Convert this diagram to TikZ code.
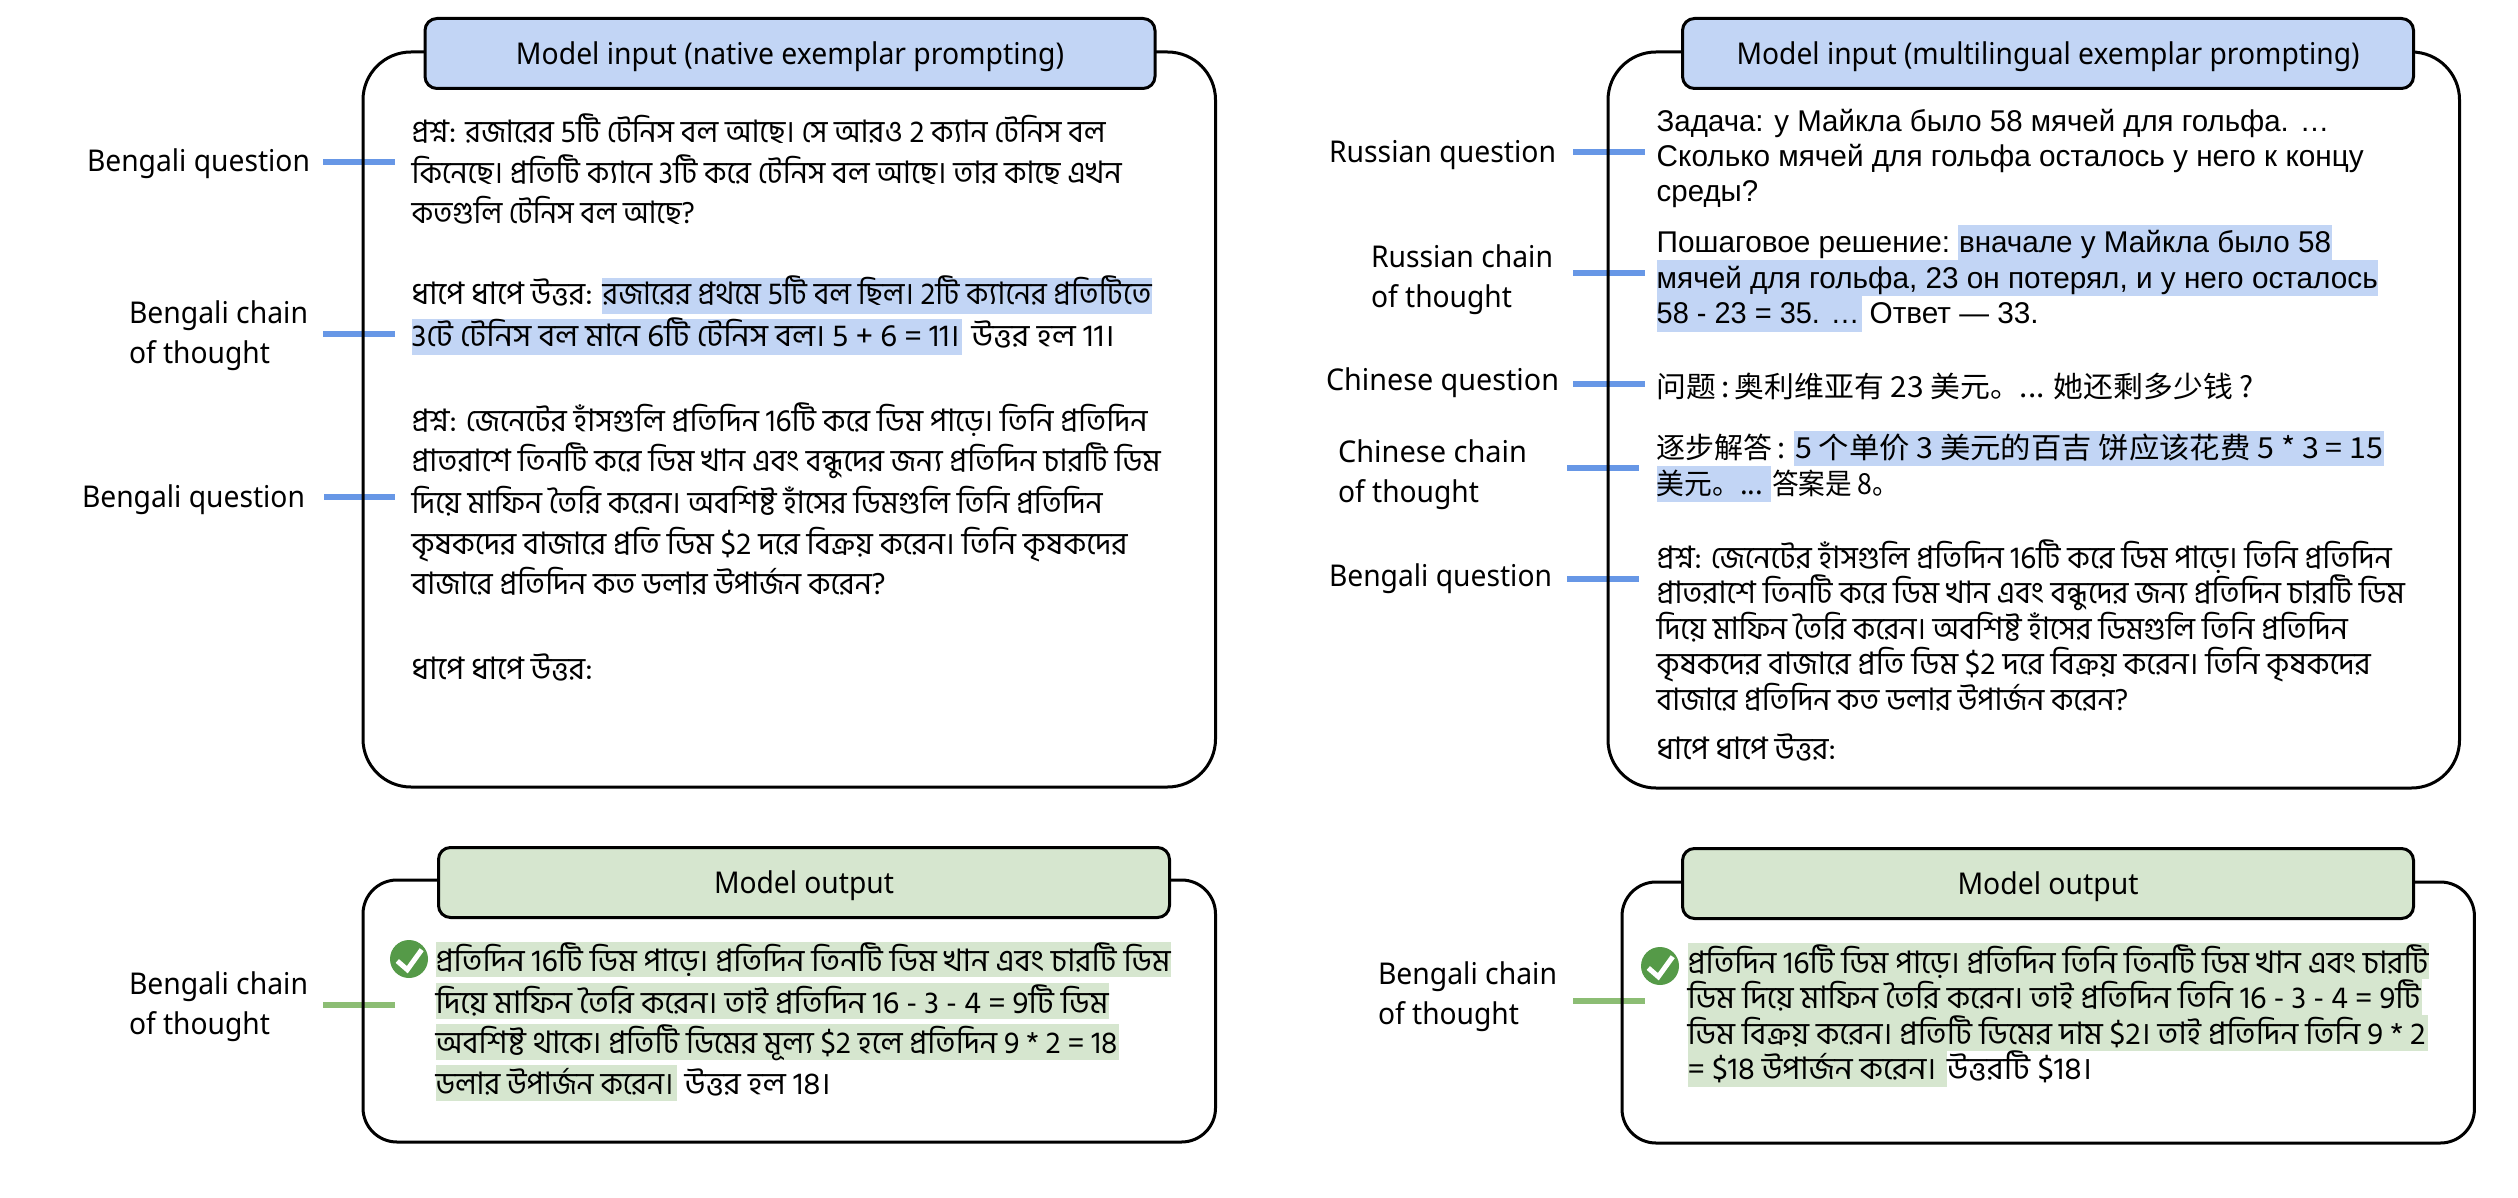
\documentclass[tikz,border=0pt]{standalone}
\usepackage{fontspec}
\usepackage{graphicx}
\setmainfont{Noto Sans}
\newfontfamily\bnfont[Script=Bengali]{Hind Siliguri}
\newfontfamily\rufont{Liberation Sans}
\newfontfamily\zhfont{Noto Sans CJK SC}
\newfontfamily\lbfont{Noto Sans}
\definecolor{hlblue}{HTML}{C2D5F5}
\definecolor{hlgreen}{HTML}{D6E6CF}
\definecolor{lnblue}{HTML}{6797E6}
\definecolor{lngreen}{HTML}{8CBD74}
\definecolor{okgreen}{HTML}{559A48}
\newcommand\fitw[2]{\resizebox{#1pt}{\height}{#2}}
% text line: style, name, x, baseline y, width, text
\newcommand\tl[6]{\node[#1] (#2) at (#3,#4) {\fitw{#5}{#6}};}
% one-line label
\newcommand\lbone[5]{\node[lab] (#1) at (#2,#3) {\fitw{#4}{#5}};}
% two-line label
\newcommand\lbtwo[6]{\node[lab] (#1) at (#2,#3) {\vtop{\baselineskip=40.5pt\hbox{\fitw{#4}{#5}}\hbox{\fitw{141}{#6}}}};}
\newcommand\okmark[3]{%
  \node[okdot] (#1) at (#2,#3) {};
  \draw[okline] ([shift={(-11.7,2)}]#1.center) -- ([shift={(-1.7,10.7)}]#1.center) -- ([shift={(12.7,-9.3)}]#1.center);}
\tikzset{
  x=1pt,y=-1pt,
  txtline/.style={anchor=base west,inner sep=0pt,outer sep=0pt},
  bn/.style={txtline,yshift=-1pt,font={\bnfont\fontsize{31}{36}\selectfont}},
  ru/.style={txtline,font={\rufont\fontsize{30}{35}\selectfont}},
  zh/.style={txtline,font={\zhfont\fontsize{29}{35}\selectfont}},
  lab/.style={txtline,yshift=-1pt,font={\lbfont\fontsize{30}{34}\selectfont}},
  cardfill/.style={fill=white},
  cardline/.style={draw=black,line width=3pt},
  hdr/.style={draw=black,line width=3pt,rounded corners=12pt,minimum height=70pt,
     inner sep=0pt,text height=28pt,text depth=6pt,font={\lbfont\fontsize{30}{34}\selectfont}},
  hdrin/.style={hdr,fill=hlblue},
  hdrout/.style={hdr,fill=hlgreen},
  linkblue/.style={draw=lnblue,line width=5.5pt},
  linkgreen/.style={draw=lngreen,line width=5.5pt},
  okdot/.style={circle,fill=okgreen,minimum size=38pt,inner sep=0pt},
  okline/.style={draw=white,line width=5pt,line join=miter},
}
\begin{document}
\begin{tikzpicture}
\useasboundingbox (0,0) rectangle (2518,1198);
\fill[white] (0,0) rectangle (2518,1198);

% card backgrounds
\path[cardfill,rounded corners=48pt] (363,52) rectangle (1215.5,787);
\path[cardfill,rounded corners=34pt] (363,880) rectangle (1215.5,1142);
\path[cardfill,rounded corners=48pt] (1608,52) rectangle (2459.5,788);
\path[cardfill,rounded corners=34pt] (1622,882) rectangle (2474.4,1143);

% labels
\lbone{lq1}{87}{171}{223}{Bengali question}
\lbtwo{lc1}{129}{322}{179}{Bengali chain}{of thought}
\lbone{lq2}{82}{506}{223}{Bengali question}
\lbtwo{lo1}{129}{993}{179}{Bengali chain}{of thought}
\lbone{rq1}{1329}{162}{227}{Russian question}
\lbtwo{rc1}{1371}{266}{182}{Russian chain}{of thought}
\lbone{rq2}{1326}{389}{233}{Chinese question}
\lbtwo{rc2}{1338}{461}{189}{Chinese chain}{of thought}
\lbone{rq3}{1329}{585}{223}{Bengali question}
\lbtwo{ro1}{1378}{983}{179}{Bengali chain}{of thought}

% connector tips
\coordinate (t1) at (395,162);
\coordinate (t2) at (395,334);
\coordinate (t3) at (395,497);
\coordinate (t4) at (395,1005);
\coordinate (t5) at (1645,152);
\coordinate (t6) at (1645,273);
\coordinate (t7) at (1645,384);
\coordinate (t8) at (1639,468);
\coordinate (t9) at (1639,579);
\coordinate (t10) at (1645,1001);
\draw[linkblue,shorten <=13pt] (lq1.east |- t1) -- (t1);
\draw[linkblue,shorten <=15pt] (lc1.east |- t2) -- (t2);
\draw[linkblue,shorten <=19pt] (lq2.east |- t3) -- (t3);
\draw[linkgreen,shorten <=15pt] (lo1.east |- t4) -- (t4);
\draw[linkblue,shorten <=17pt] (rq1.east |- t5) -- (t5);
\draw[linkblue,shorten <=20pt] (rc1.east |- t6) -- (t6);
\draw[linkblue,shorten <=14pt] (rq2.east |- t7) -- (t7);
\draw[linkblue,shorten <=40pt] (rc2.east |- t8) -- (t8);
\draw[linkblue,shorten <=15pt] (rq3.east |- t9) -- (t9);
\draw[linkgreen,shorten <=16pt] (ro1.east |- t10) -- (t10);

% card outlines
\draw[cardline,rounded corners=48pt] (363,52) rectangle (1215.5,787);
\draw[cardline,rounded corners=34pt] (363,880) rectangle (1215.5,1142);
\draw[cardline,rounded corners=48pt] (1608,52) rectangle (2459.5,788);
\draw[cardline,rounded corners=34pt] (1622,882) rectangle (2474.4,1143);

% headers
\node[hdrin,minimum width=730pt] (h1) at (790,53.5) {\fitw{548}{Model input (native exemplar prompting)}};
\node[hdrout,minimum width=731pt] (h2) at (804,882.5) {\fitw{180}{Model output}};
\node[hdrin,minimum width=731pt] (h3) at (2048,53.5) {\fitw{623}{Model input (multilingual exemplar prompting)}};
\node[hdrout,minimum width=731pt] (h4) at (2048,883.5) {\fitw{181}{Model output}};

% highlights
\fill[hlblue] (601.6,278) rectangle (1152,314);
\fill[hlblue] (411.6,319) rectangle (961.7,355);
\fill[hlblue] (1958.3,225) rectangle (2332,260);
\fill[hlblue] (1656.7,260) rectangle (2378,296);
\fill[hlblue] (1656.7,296) rectangle (1862,332);
\fill[hlblue] (1794.3,431) rectangle (2384,466);
\fill[hlblue] (1656.7,466) rectangle (1771.4,502);
\fill[hlgreen] (435.5,942) rectangle (1170.5,977);
\fill[hlgreen] (435.5,983) rectangle (1109,1019);
\fill[hlgreen] (435.5,1024) rectangle (1118.5,1060);
\fill[hlgreen] (435.5,1065) rectangle (676.7,1101);
\fill[hlgreen] (1687.5,943) rectangle (2428.7,979);
\fill[hlgreen] (1687.5,979) rectangle (2422,1015);
\fill[hlgreen] (1687.5,1015) rectangle (2428,1051);
\fill[hlgreen] (1687.5,1051) rectangle (1947,1087);

% left input text
\tl{bn}{a1}{411.6}{142}{694}{প্রশ্ন: রজারের 5টি টেনিস বল আছে। সে আরও 2 ক্যান টেনিস বল}
\tl{bn}{a2}{411.6}{183}{710}{কিনেছে। প্রতিটি ক্যানে 3টি করে টেনিস বল আছে। তার কাছে এখন}
\tl{bn}{a3}{411.6}{223}{283}{কতগুলি টেনিস বল আছে?}
\tl{bn}{a4}{411.6}{304}{181}{ধাপে ধাপে উত্তর:}
\tl{bn}{a5}{602.6}{304}{549}{রজারের প্রথমে 5টি বল ছিল। 2টি ক্যানের প্রতিটিতে}
\tl{bn}{a6}{411.6}{345}{548}{3টে টেনিস বল মানে 6টি টেনিস বল। 5 + 6 = 11।}
\tl{bn}{a7}{971.7}{345}{143}{উত্তর হল 11।}
\tl{bn}{a8}{411.6}{430}{736}{প্রশ্ন: জেনেটের হাঁসগুলি প্রতিদিন 16টি করে ডিম পাড়ে। তিনি প্রতিদিন}
\tl{bn}{a9}{411.6}{470}{749}{প্রাতরাশে তিনটি করে ডিম খান এবং বন্ধুদের জন্য প্রতিদিন চারটি ডিম}
\tl{bn}{a10}{411.6}{512}{691}{দিয়ে মাফিন তৈরি করেন। অবশিষ্ট হাঁসের ডিমগুলি তিনি প্রতিদিন}
\tl{bn}{a11}{411.6}{553}{716}{কৃষকদের বাজারে প্রতি ডিম \$2 দরে বিক্রয় করেন। তিনি কৃষকদের}
\tl{bn}{a12}{411.6}{593}{474}{বাজারে প্রতিদিন কত ডলার উপার্জন করেন?}
\tl{bn}{a13}{411.6}{678}{181}{ধাপে ধাপে উত্তর:}

% left output text
\okmark{ok1}{409}{959}
\tl{bn}{b1}{435.5}{970}{735}{প্রতিদিন 16টি ডিম পাড়ে। প্রতিদিন তিনটি ডিম খান এবং চারটি ডিম}
\tl{bn}{b2}{435.5}{1012}{673}{দিয়ে মাফিন তৈরি করেন। তাই প্রতিদিন 16 - 3 - 4 = 9টি ডিম}
\tl{bn}{b3}{435.5}{1052}{682}{অবশিষ্ট থাকে। প্রতিটি ডিমের মূল্য \$2 হলে প্রতিদিন 9 * 2 = 18}
\tl{bn}{b4}{435.5}{1093}{238}{ডলার উপার্জন করেন।}
\tl{bn}{b5}{684.6}{1093}{146}{উত্তর হল 18।}

% right input text
\tl{ru}{c1}{1656.7}{132}{672.5}{Задача: у Майкла было 58 мячей для гольфа. …}
\tl{ru}{c2}{1656.7}{167}{707}{Сколько мячей для гольфа осталось у него к концу}
\tl{ru}{c3}{1656.7}{202}{101.5}{среды?}
\tl{ru}{c4}{1656.7}{253}{293.5}{Пошаговое решение:}
\tl{ru}{c5}{1959}{253}{372}{вначале у Майкла было 58}
\tl{ru}{c6}{1656.7}{288}{721}{мячей для гольфа, 23 он потерял, и у него осталось}
\tl{ru}{c7}{1656.7}{323}{203}{58 - 23 = 35. …}
\tl{ru}{c8}{1869.6}{323}{169}{Ответ — 33.}
\tl{zh}{c9}{1656.7}{397}{597}{问题\,:\,奥利维亚有 23 美元。... 她还剩多少钱 ?}
\tl{zh}{c10}{1656.7}{458}{129}{逐步解答\,:}
\tl{zh}{c11}{1795}{458}{588}{5 个单价 3 美元的百吉 饼应该花费 5 * 3 = 15}
\tl{zh}{c12}{1656.7}{494}{106.5}{美元。...}
\tl{zh}{c13}{1772}{494}{127.3}{答案是 8。}
\tl{bn}{c14}{1656.7}{567}{735}{প্রশ্ন: জেনেটের হাঁসগুলি প্রতিদিন 16টি করে ডিম পাড়ে। তিনি প্রতিদিন}
\tl{bn}{c15}{1656.7}{602}{748}{প্রাতরাশে তিনটি করে ডিম খান এবং বন্ধুদের জন্য প্রতিদিন চারটি ডিম}
\tl{bn}{c16}{1656.7}{638}{691}{দিয়ে মাফিন তৈরি করেন। অবশিষ্ট হাঁসের ডিমগুলি তিনি প্রতিদিন}
\tl{bn}{c17}{1656.7}{673}{714}{কৃষকদের বাজারে প্রতি ডিম \$2 দরে বিক্রয় করেন। তিনি কৃষকদের}
\tl{bn}{c18}{1656.7}{709}{471.5}{বাজারে প্রতিদিন কত ডলার উপার্জন করেন?}
\tl{bn}{c19}{1656.7}{758}{179}{ধাপে ধাপে উত্তর:}

% right output text
\okmark{ok2}{1660}{966}
\tl{bn}{d1}{1687.5}{972}{741}{প্রতিদিন 16টি ডিম পাড়ে। প্রতিদিন তিনি তিনটি ডিম খান এবং চারটি}
\tl{bn}{d2}{1687.5}{1007}{733}{ডিম দিয়ে মাফিন তৈরি করেন। তাই প্রতিদিন তিনি 16 - 3 - 4 = 9টি}
\tl{bn}{d3}{1687.5}{1043}{738}{ডিম বিক্রয় করেন। প্রতিটি ডিমের দাম \$2। তাই প্রতিদিন তিনি 9 * 2}
\tl{bn}{d4}{1687.5}{1078}{248.7}{= \$18 উপার্জন করেন।}
\tl{bn}{d5}{1947}{1078}{145}{উত্তরটি \$18।}
\end{tikzpicture}
\end{document}
